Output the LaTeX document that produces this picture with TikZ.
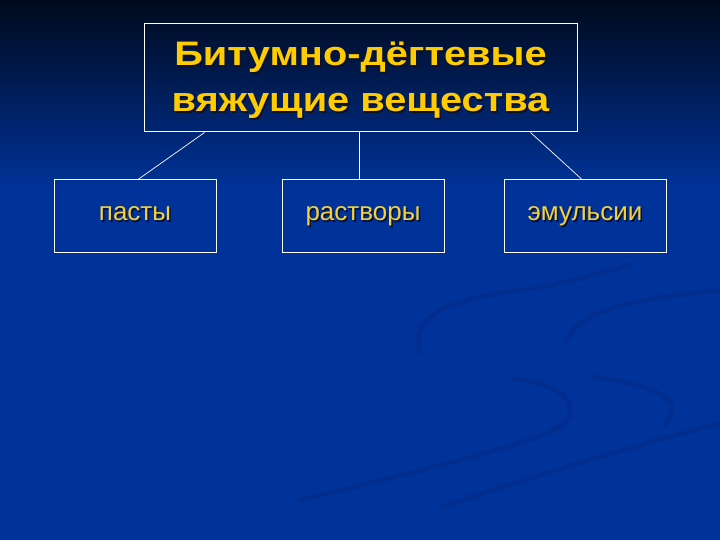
\documentclass[tikz,border=0pt]{standalone}
\usepackage{fontspec}
\setmainfont{Liberation Sans}
\newfontfamily\titlefont{Liberation Sans Bold}[FakeStretch=1.17]
\usetikzlibrary{positioning}
\definecolor{bgtop}{HTML}{000A1C}
\definecolor{bgblue}{HTML}{00339A}
\definecolor{titleyellow}{HTML}{FFCC00}
\definecolor{leafyellow}{HTML}{F2D040}
\definecolor{shadowc}{HTML}{0A1030}
\definecolor{swirl}{HTML}{002D8E}
\newcommand{\shtext}[1]{\makebox[0pt][l]{\hspace{1.5pt}\raisebox{-1.5pt}{\color{shadowc}#1}}#1}
\tikzset{
  titlebox/.style={draw=white,line width=1pt,minimum width=433pt,minimum height=108pt,
    text=titleyellow,font=\fontsize{34}{46}\titlefont},
  leafbox/.style={draw=white,line width=1pt,minimum width=162pt,minimum height=72pt,
    text height=16pt,text depth=6pt,text=leafyellow,font=\fontsize{26}{30}\selectfont},
  link/.style={draw=white,line width=0.7pt},
  swoosh/.style={draw=swirl,line width=5pt,line cap=round}
}

\begin{document}
\begin{tikzpicture}[x=1pt,y=-1pt]
\useasboundingbox (0,0) rectangle (720,540);
% background
\shade[top color=bgtop,bottom color=bgblue] (0,0) rectangle (720,190);
\fill[bgblue] (0,190) rectangle (720,540);
\path[swoosh] (720,290) .. controls (620,300) and (575,315) .. (567,340);
\path[swoosh] (420,352) .. controls (410,320) and (440,300) .. (520,290)
  .. controls (570,283) and (600,272) .. (630,265);
\path[swoosh] (513,378) .. controls (560,385) and (578,400) .. (567,420)
  .. controls (555,440) and (420,470) .. (300,500);
\path[swoosh] (593,377) .. controls (640,383) and (690,395) .. (665,425);
\path[swoosh] (720,423) .. controls (620,450) and (520,480) .. (443,507);
% boxes
\node (top) [titlebox] at (360.5,78) {\raisebox{0pt}[81.8pt][13.8pt]{\begin{tabular}[b]{@{}c@{}}
  \shtext{Битумно-дёгтевые}\\\shtext{вяжущие вещества}\end{tabular}}};
\node (pasty) [leafbox] at (135,216) {\shtext{пасты}};
\node (rastvory) [leafbox] at (363,216) {\shtext{растворы}};
\node (emulsii) [leafbox] at (585,216) {\shtext{эмульсии}};
%
\path[link] ([xshift=61pt]top.south west) -- ([xshift=3pt]pasty.north);
\path[link] ([xshift=-1pt]top.south) -- ([xshift=-1pt]top.south |- rastvory.north);
\path[link] ([xshift=-47pt]top.south east) -- ([xshift=-3pt]emulsii.north);
\end{tikzpicture}
\end{document}
